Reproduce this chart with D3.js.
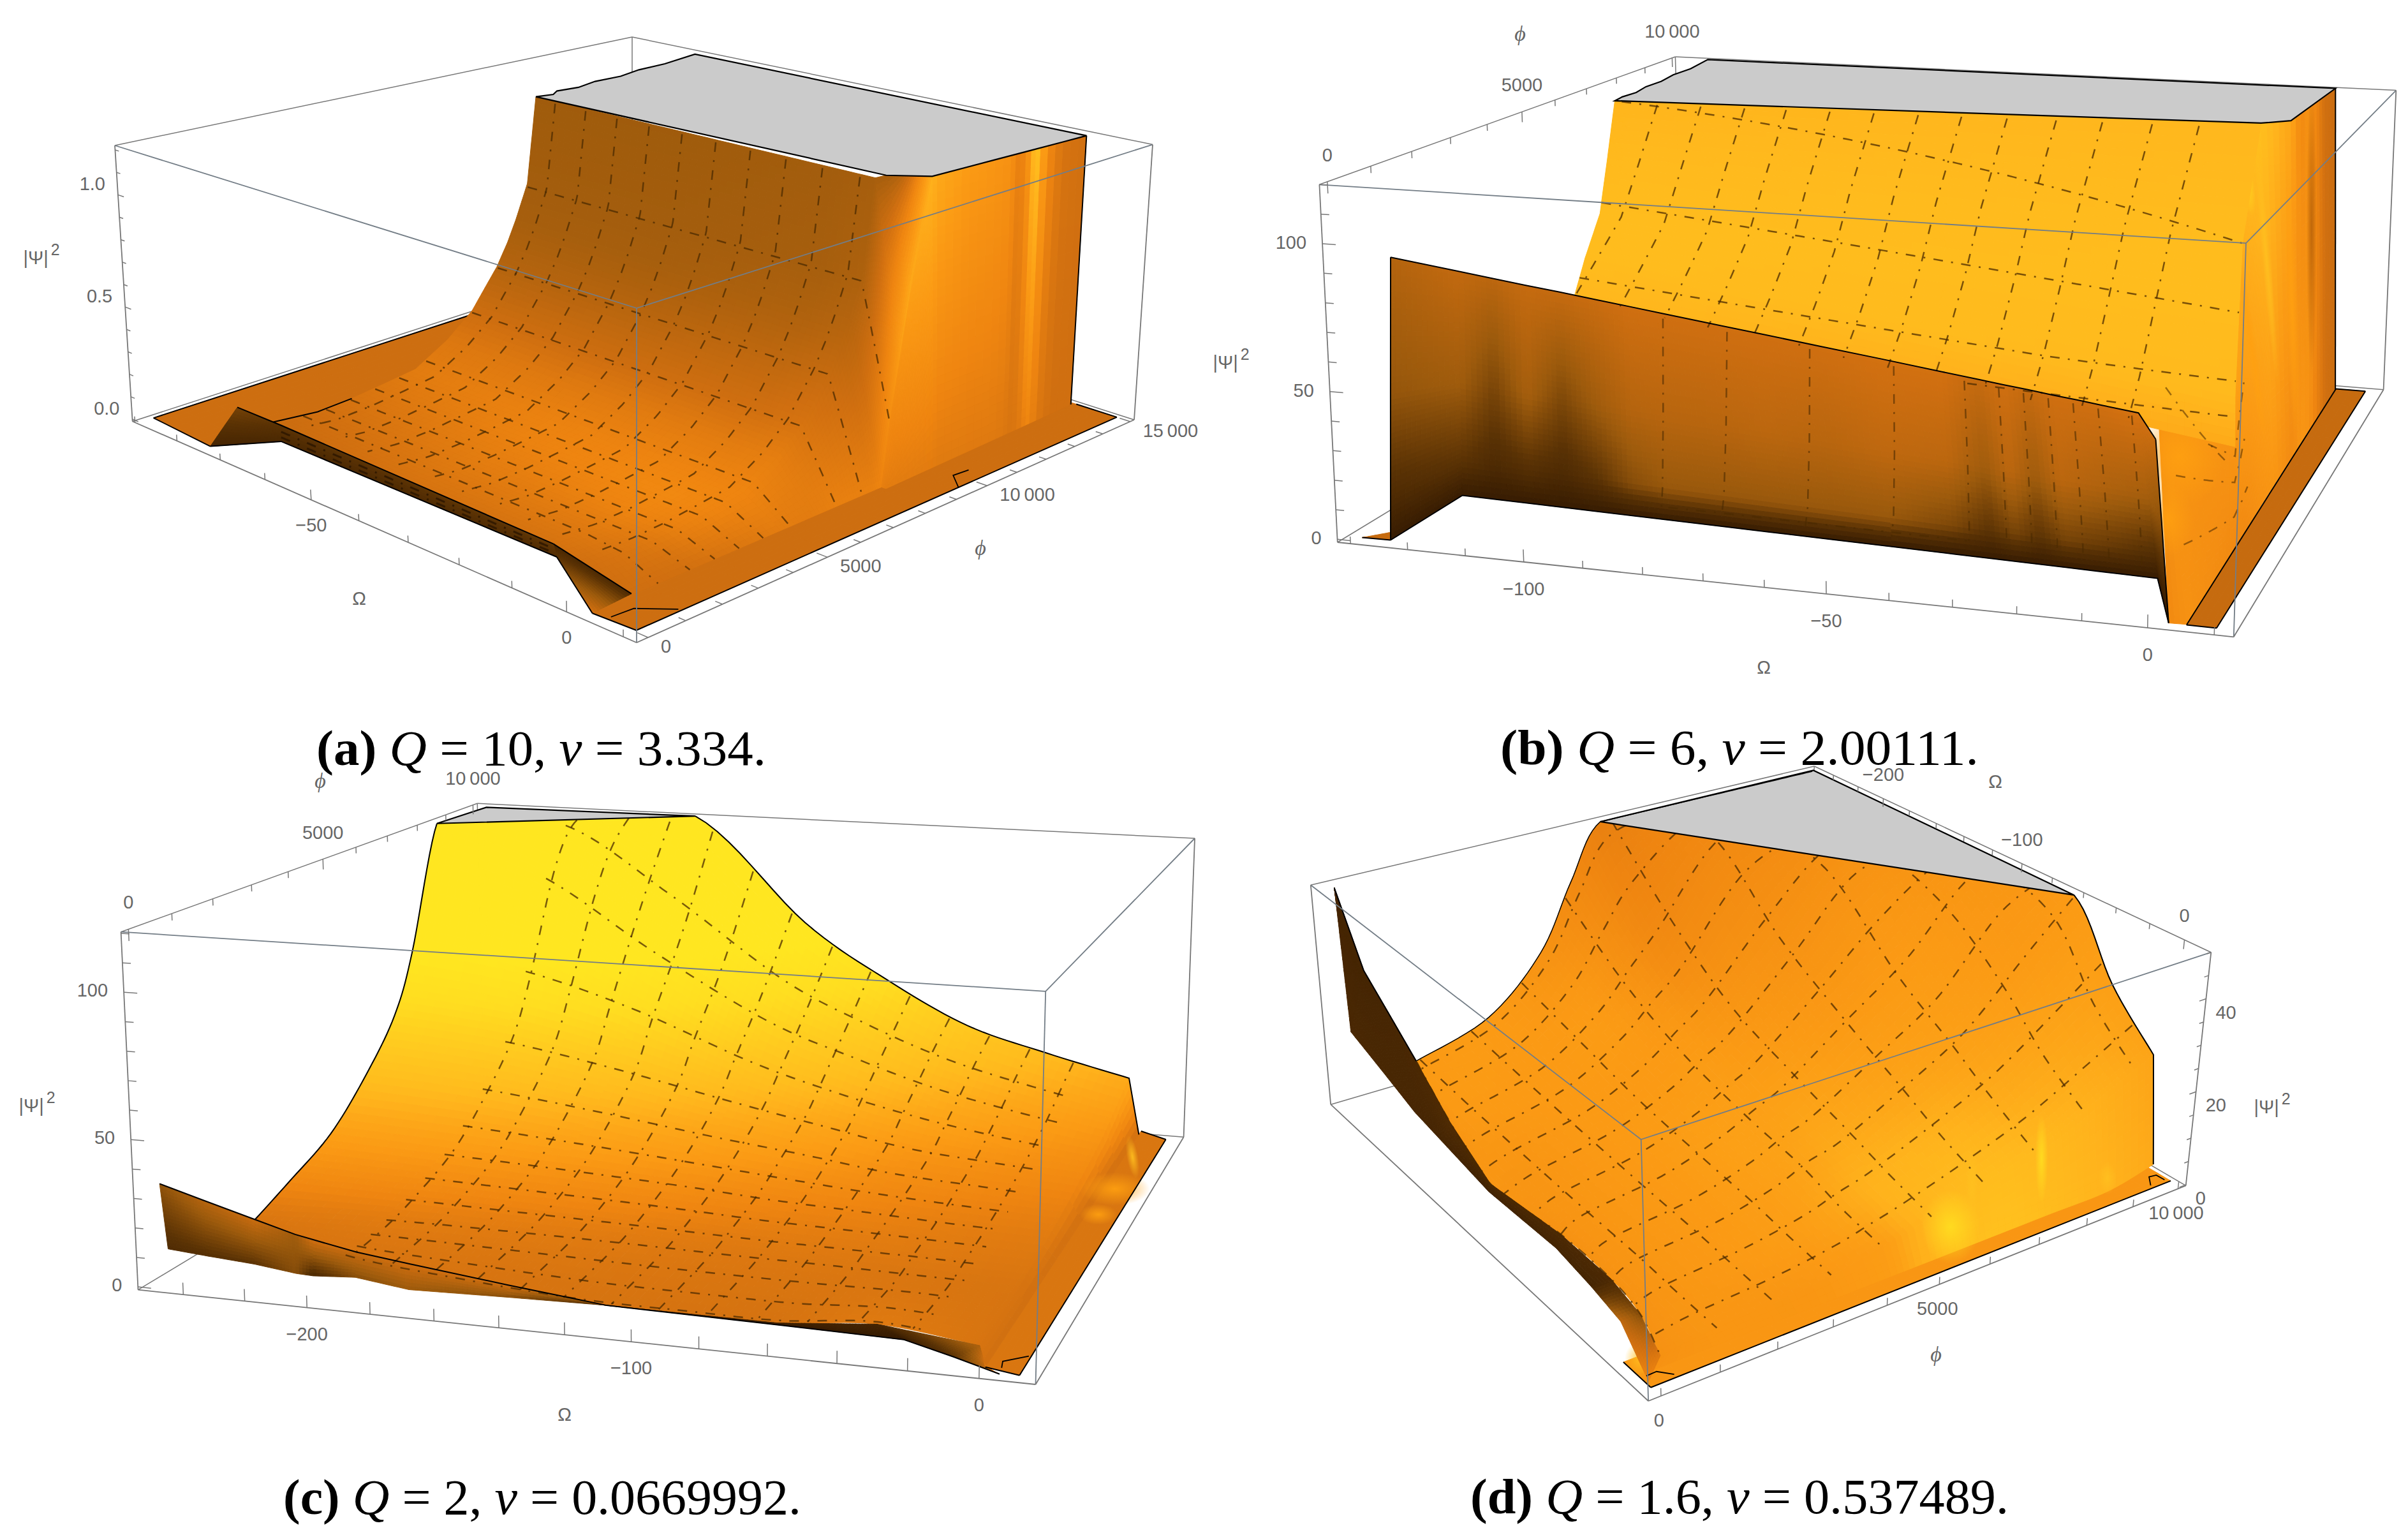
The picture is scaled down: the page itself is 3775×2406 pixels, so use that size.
<!DOCTYPE html>
<html><head><meta charset="utf-8"><script src="https://cdn.jsdelivr.net/npm/d3@7"></script>
<style>html,body{margin:0;background:#fff}svg{display:block}</style></head><body>
<svg id="fig" width="3775" height="2406"></svg>
<script>
// ---------- shared ----------
const shadeStops=[0,.2,.35,.5,.6,.7,.8,.9,1];
const shadeColors=['#241000','#5a3204','#9c5a0c','#d06f10','#ef8510','#fb9a14','#ffb31c','#ffc91f','#ffe620'];
const omegaMinorA=[-90,-80,-70,-60,-50,-40,-30,-20,-10,0,10];
const omegaMinorB=[-130,-120,-110,-100,-90,-80,-70,-60,-50,-40,-30,-20,-10,0,10];
const omegaMinorCD=[-240,-220,-200,-180,-160,-140,-120,-100,-80,-60,-40,-20,0];
const phiMinor=[0,1000,2000,3000,4000,5000,6000,7000,8000,9000,10000,11000,12000,13000,14000,15000];

// ---------- panel (a): Q = 10 ----------
const aOmegaTicks=[-50,0], aOmegaLabels=['−50','0'];
const aPhiTicks=[0,5000,10000,15000], aPhiLabels=['0','5000','10\u2009000','15\u2009000'];
const aZTicks=[0,.5,1], aZLabels=['0.0','0.5','1.0'], aZMinor=[0,.1,.2,.3,.4,.5,.6,.7,.8,.9,1,1.1,1.2];
const aMainOmegaRows=[[-70.3,-40,-11.4,-4,2.8],[-70.3,-40,-11.4,-4,.9],[-70.3,-40,-11.4,-3.8,1.2],[-70.3,-40,-11.4,-4,1.6],[-70.3,-40,-11.4,-4,2],[-70.3,-40,-11.4,-4,2.8],[-70.3,-40,-11.4,-4,2.8],[-70.3,-40,-11.4,-4,2.8],[-70.3,-40,-11.4,-4,2.8],[-70.3,-40,-11.4,-4,2.8],[-70.3,-40,-11.4,-4,2.8],[-70.3,-40,-11.4,-4,2.8],[-70.3,-40,-11.4,-4,2.8],[-70.3,-40,-11.4,-4,2.8],[-70.3,-40,-11.4,-4,2.8]];
const aMainPhi=[14800,9860,9270,8968,8682,8311,8051,7716,6942,6182,5221,4300,3365,2400,[1183,1100,1003,800,500]];
const aMainZ=[[1.22,1.22,1.22,1.22,1.22],[1.22,1.22,1.22,1.22,1.22],[1.22,1.22,1.22,1.22,.75],[1.22,1.22,1.22,1.22,.5],[.81,.81,.81,.81,.25],[.65,.65,.65,.65,0],[.554,.554,.554,.554,0],[.453,.453,.453,.453,0],[.281,.281,.281,.281,0],[.181,.181,.181,.181,0],[.094,.094,.094,.094,0],[.075,.075,.075,.075,0],[.058,.058,.058,.058,0],[.05,.05,.05,.05,0],[.07,.07,.07,.05,0]];
const aMainShade=[[.36,.36,.36,.38,.78],[.36,.36,.36,.38,.78],[.36,.36,.36,.38,.76],[.36,.36,.37,.38,.72],[.37,.37,.38,.40,.66],[.38,.38,.40,.42,.6],[.40,.40,.42,.44,.58],[.42,.43,.45,.47,.58],[.49,.49,.5,.52,.58],[.54,.55,.56,.57,.56],[.56,.59,.6,.6,.56],[.54,.59,.62,.6,.54],[.52,.57,.6,.58,.52],[.5,.55,.56,.54,.5],[.48,.52,.52,.5,.5]];
const aWallOmegaTop=[2.8,2.5,2.3,2.2,2.14,2.08,1.95,1.83,1.64,1.33,.95,.9,1.2,1.8,2.8];
const aWallOmegaBase=[2.6,2.72,2.8,2.84,2.86,2.88,2.94,2.99,3.06,3.19,3.34,3.36,3.45,3.54,3.6];
const aWallPhi=[14800,14000,13500,13250,13100,12950,12600,12300,11800,11000,10000,9860,9270,8682,8311];
const aWallTop=[1.22,1.22,1.22,1.22,1.22,1.22,1.22,1.22,1.22,1.22,1.22,1.22,.75,.25,0];
const aWallShadeTop=[.5,.52,.62,.78,.92,.7,.56,.66,.68,.7,.76,.8,.72,.62,.58];
const aWallShadeBase=[.5,.5,.54,.6,.6,.56,.52,.54,.55,.55,.55,.56,.56,.56,.56];
const aFloorOmega=[-88.8,-74.3,-68.6,-12.2,3.1,10.4];
const aFloorPhiFront=[65,-64,1170,1202,-82,-21];
const aCurtainOmegaTop=[-78.5,-68.5,-11.4], aCurtainPhiTop=[1177,1183,1003], aCurtainOmegaBase=[-74.3,-68.6,-12.2], aCurtainPhiBase=[-64,1170,1202];
const aCornerOmegaTop=[-11.4,6.4], aCornerPhiTop=[1003,457], aCornerOmegaBase=[-12.2,3.1], aCornerPhiBase=[1202,-82];
const aPlateauOmega=[-70.3,-69.5,-70.8,-70.2,-71.3,-71,-72.2,-72.3,-73.8,2.8,2.5,2.1,1.64,.9,-3.8];
const aPlateauPhi=[8968,9400,9700,10300,11000,11800,12600,13500,14795,14800,14000,12950,11800,9860,9270];
const aMeshOmega=[-66,-59.4,-52.8,-46.2,-39.6,-33,-26.4,-19.8,-13.2,-6.6];
const aMeshPhi=[8650,7700,6900,5500,4700,4000,3300,2600,1900];
const aMarkOmega1=[5.5,5.8,9.9], aMarkPhi1=[51,611,1175];
const aMarkOmega2=[10.5,7.2,7.5], aMarkPhi2=[9400,9834,10290];

// ---------- panel (b): Q = 6 ----------
const bOmegaTicks=[-100,-50,0], bOmegaLabels=['−100','−50','0'];
const bPhiTicks=[0,5000,10000], bPhiLabels=['0','5000','10\u2009000'];
const bZTicks=[0,50,100], bZLabels=['0','50','100'], bZMinor=[0,10,20,30,40,50,60,70,80,90,100,110,120];
const bMainOmega=[[-121.5,-4.2],[-121.5,-4.2],[-121.5,-4.2],[-121.5,-4.2],[-121.5,-4.2]];
const bMainPhi=[[6177,6980],[5882,5979],[5594,5869],[5088,5767],[4710,5853]];
const bMainZ=[[120,120],[98.4,80.5],[78.5,53.8],[64.2,25.4],[51.3,6.5]];
const bMainShade=[[.81,.82],[.83,.84],[.84,.84],[.84,.83],[.82,.76]];
const bMeshDash=[.07,.14,.21,.276,.345,.414,.483,.55,.62,.695,.765,.84,.91];
const bMeshDotLeft=[0,1.8,3.5,3.95], bMeshDotRight=[1,1.93,2.8,3.4], bMeshDotStart=[0,0,0,.6];
const bCurtainOmegaTop=[-135.3,-123,-117,-111,-105,-99,-93,-87,-80,-70,-60,-50,-40,-34,-30,-26,-22,-18,-14,-8.3,-5.5];
const bCurtainZTop=[83,79.7,78.1,76.5,75,73.4,71.8,70.2,68.3,65.7,63,60.4,57.7,56.1,55,54,52.9,51.9,50.8,49.3,41.1];
const bCurtainOmegaBase=[-124.1,-124,-117.7,-111.4,-105,-98.7,-92.4,-86.1,-78.7,-68.2,-57.7,-47.1,-36.6,-30.3,-26.1,-21.9,-17.7,-13.5,-9.3,-3.3,2.8];
const bCurtainPhiBase=[-19,1767,1743,1719,1694,1670,1646,1622,1594,1553,1513,1473,1433,1409,1393,1377,1361,1345,1329,1305,-64];
const bCurtainShadeTop=[.42,.46,.44,.47,.47,.48,.5,.5,.5,.5,.5,.51,.51,.47,.5,.47,.5,.5,.5,.52,.48];
const bCurtainShadeMid=[.33,.36,.27,.38,.28,.36,.42,.43,.43,.44,.43,.45,.44,.36,.44,.36,.44,.42,.4,.38,.3];
const bCurtainShadeLow=[.16,.2,.15,.18,.15,.2,.3,.34,.34,.34,.34,.34,.28,.2,.26,.2,.26,.24,.22,.18,.12];
const bCurtainRows=[1,.5,.15,0];
const bWallOmegaTop=[-5.5,-5.5,-4.2,-4.2,-4.2,-4.2,-4.2,.3,.8,1,1.2,1.5,1.7];
const bWallPhiTop=[1767,1767,5853,5767,5869,5979,6980,7276,7800,8300,8800,9300,10046];
const bWallZTop=[60,60,12,25.4,53.8,80.5,120,120,120,120,120,120,120];
const bWallOmegaBase=[2.8,5.5,5.2,5,4.9,4.8,4.7,4.6,4.5,4.45,4.4,4.35,4.3];
const bWallPhiBase=[-64,-50,2500,3200,3800,4300,5200,6500,7100,7700,8300,9000,9785];
const bWallShadeTop=[.66,.66,.68,.72,.75,.78,.86,.75,.62,.66,.6,.5,.48];
const bWallShadeBase=[.62,.66,.62,.62,.64,.66,.68,.62,.68,.66,.58,.5,.48];
const bPlateauOmega=[-121.5,-122,-121.6,-122.6,-122.4,-123.4,-123.2,-124.6,1.7,.3,-4.2];
const bPlateauPhi=[6177,6500,6900,7400,7900,8500,9100,10002,10046,7276,6980];
const bFloorRightOmega=[[4.3,10],[5.5,10]], bFloorRightPhi=[9833,-64];
const bFloorLeftOmega=[-129,-124.1], bFloorLeftPhi=[[-34,400],[-34,-19]];

// ---------- panel (c): Q = 2 ----------
const cOmegaTicks=[-200,-100,0], cOmegaLabels=['−200','−100','0'];
const cPhiTicks=[0,5000,10000], cPhiLabels=['0','5000','10\u2009000'];
const cZTicks=[0,50,100], cZLabels=['0','50','100'], cZMinor=[0,10,20,30,40,50,60,70,80,90,100,110,120];
const cMainOmega=[-249.7,-208,-167,-124.9,-92.6,-63.4,-34.5,-4,.2];
const cMainPhi=[9975,9000,8217,7261,6621,5668,4545,3291,2364,[2364,1400,1000,700,660,660,700,550,100]];
const cMainZ=[[120.5,120.5,120.5,78,55.5,39.4,30.5,22.6,0],[120.5,120.5,95,62,45,33,25,18,0],[120.5,105,76,50,37,27,20,14,0],[72,66,54,37,27,20,15,11,0],[50,46,38,28,21,15,12,9.5,0],[32.7,30,25,19,15,11,9,7,0],[17.7,16,14,11.5,9,7.5,6,5,0],[8.7,8,7,6,5,4.5,4,3,0],[2.6,4,4,3.5,3,2.8,2.5,2,0],[2.6,2,1.5,1.5,1.5,1.5,4,2,0]];
const cShadeZ=[0,5,9,15,22,30,40,55,70,80], cShadeS=[.5,.56,.62,.7,.76,.84,.9,.97,1,1];
const cCurtainOmegaTop=[-258.3,-243.6,-226.9,-213.8,-208,-194,-177.2,-146,-115.1];
const cCurtainZTop=[28.1,23.7,18.8,15,13.8,11,8.8,5,1.5];
const cCurtainOmegaBase=[-264.6,-250,-232,-216,-210.1,-197.4,-177.4,-147,-116.6];
const cCurtainPhiBase=[1229,1120,1000,825,801,898,667,750,817];
const cCurtainShadeTop=[.32,.42,.48,.36,.5,.48,.5,.5,.3], cCurtainShadeBase=[.16,.18,.2,.3,.14,.3,.35,.3,.15];
const cStripOmegaTop=[-115.1,-63.4,-34.5,-4,.2], cStripPhiTop=[667,660,700,550,100], cStripZTop=[1.5,1.5,4,2,0];
const cStripOmegaBase=[-116.6,-63,-26.5,-10,5.1], cStripPhiBase=[817,750,688,310,-67];
const cStripShadeTop=[.2,.1,.12,.4,.55], cStripShadeBase=[.1,.06,.06,.2,.5];
const cPlateauOmega=[-249.7,-247.9,-167], cPlateauPhi=[8217,9850,9975];
const cMeshOmega=[-205,-190,-175,-160,-145,-130,-115,-100,-85,-70,-55,-40,-25];
const cMeshPhi=[800,1400,2000,2600,3200,3800,4400,5000,5700,6500,7300,8100,8900];
const cFloorOmega=[.2,10.5], cFloorPhi=[[10167,9830],[100,-44]];
const cMarkOmega=[4.6,3.8,9.8], cMarkPhi=[126,327,575];

// ---------- panel (d): Q = 1.6 ----------
const dOmegaTicks=[-200,-100,0], dOmegaLabels=['−200','−100','0'];
const dPhiTicks=[0,5000,10000], dPhiLabels=['0','5000','10\u2009000'];
const dZTicks=[0,20,40], dZLabels=['0','20','40'], dZMinor=[0,5,10,15,20,25,30,35,40,45,50];
const dMainOmega=[-250.4,-200,-150,-100,-60.4,-33,-5.8,.3];
const dMainPhi=[9975,9000,7770,6530,5284,4640,3984,2872,1385,[1385,1034,756,960,955,820,500,20]];
const dMainZ=[[50,50,50,50,50,34.8,24.6,2.03],[50,50,50,50,40,28,20,0],[50,50,50,36,27,20,14,0],[50,50,36,26,19,14,10,0],[50,33,22,16,12,9,6.5,0],[37.2,25,17,12.5,10,7,5,0],[22.5,17,12,9,7,5,3.5,0],[10.7,8.5,6.5,5,4,3,2,0],[5.4,4,3,2.5,2.2,1.5,1,0],[5.4,2.6,.56,.05,0,0,0,0]];
const dMainShade=[[.6,.62,.66,.68,.7,.72,.74,.76],[.6,.62,.66,.68,.7,.74,.78,.8],[.6,.62,.66,.7,.72,.76,.82,.84],[.6,.62,.66,.7,.74,.8,.84,.86],[.58,.62,.68,.72,.76,.8,.8,.8],[.62,.66,.7,.72,.74,.76,.72,.72],[.66,.7,.7,.72,.72,.72,.7,.7],[.7,.7,.7,.7,.7,.7,.68,.68],[.7,.7,.68,.68,.68,.68,.68,.68],[.7,.68,.68,.66,.66,.66,.66,.66]];
const dStripOmegaTop=[-252,-252,-250.4,-200,-150,-100,-60.4,-33,-5.8], dStripPhiTop=[140,550,1385,1034,756,960,955,820,500], dStripZTop=[49,28.7,5.4,2.6,.56,.05,0,0,0];
const dStripOmegaBase=[-252,-252,-227.2,-195,-146.4,-92,-60,-33,5.4], dStripPhiBase=[140,220,873,784,650,700,597,480,26], dStripZBase=[49,15.7,0,0,0,0,0,0,0];
const dStripShadeTop=[.12,.12,.14,.16,.14,.15,.15,.3,.55], dStripShadeBase=[.12,.14,.13,.12,.1,.12,.12,.45,.6];
const dPlateauOmega=[-250.4,-251.4,-60.4], dPlateauPhi=[5284,10027,9975];
const dMeshOmega=[-240,-220,-200,-180,-160,-140,-120,-100,-80,-60,-40,-20];
const dMeshPhi=[500,1500,2500,3500,4500,5500,6500,7500,8500,9500];
const dFloorOmega=[-10,9], dFloorPhi=[[10060,10060],[-24,-24]];
const dMarkOmega1=[2.1,1.9,7], dMarkPhi1=[70,246,417];
const dMarkOmega2=[7,1.4,2.1,6.9], dMarkPhi2=[9684,9858,9994,10000];

// ---------- captions ----------
const captionTags=['(a)','(b)','(c)','(d)'];
const captionQ=['10','6','2','1.6'];
const captionNu=['3.334','2.00111','0.0669992','0.537489'];

// ---------- helpers ----------
const svg=d3.select('#fig');
const shadeScale=d3.scaleLinear().domain(shadeStops).range(shadeColors).clamp(true);
const GRAY='#777';
const defs=svg.append('defs');
[['gYellow','#ffe020',.85],['gOrange','#ffa010',.9],['gPale','#ffc01f',.9],['gDark','#a85606',.7]].forEach(([id,c,o])=>{
  const g=defs.append('radialGradient').attr('id',id);
  g.append('stop').attr('offset','0%').attr('stop-color',c).attr('stop-opacity',o);
  g.append('stop').attr('offset','100%').attr('stop-color',c).attr('stop-opacity',0);
});
function hom(q){const [[x0,y0],[x1,y1],[x2,y2],[x3,y3]]=q;const dx1=x1-x2,dx2=x3-x2,sx=x0-x1+x2-x3,dy1=y1-y2,dy2=y3-y2,sy=y0-y1+y2-y3;const den=dx1*dy2-dx2*dy1;const g=(sx*dy2-dx2*sy)/den,h=(dx1*sy-sx*dy1)/den;const a=x1-x0+g*x1,b=x3-x0+h*x3,c=x0,d=y1-y0+g*y1,e=y3-y0+h*y3,f=y0;return (u,v)=>{const k=g*u+h*v+1;return [(a*u+b*v+c)/k,(d*u+e*v+f)/k]}}
function makePanel(cfg){
  const H0=hom(cfg.low),H1=hom(cfg.up);
  const u=d3.scaleLinear().domain(cfg.om).range([0,1]),v=d3.scaleLinear().domain(cfg.ph).range([0,1]),w=d3.scaleLinear().domain(cfg.z).range([0,1]);
  const project=(O,P,Z)=>{const a=H0(u(O),v(P)),b=H1(u(O),v(P)),t=w(Z);return [a[0]+(b[0]-a[0])*t,a[1]+(b[1]-a[1])*t]};
  return {...cfg,project,g:svg.append('g')};
}
const omAt=(s,r,c)=>Array.isArray(s.om[0])?s.om[r][c]:s.om[c];
const phAt=(s,r,c)=>Array.isArray(s.ph[r])?s.ph[r][c]:s.ph[r];
const lerp=(a,b,t)=>a+(b-a)*t;
function basis(x,n,k){
  if(!k||x>=k-1){const c=Math.min(Math.floor(x),n-2),a=x-c;return [[c,1-a],[c+1,a]]}
  const c=Math.floor(x),t=x-c,cl=i=>Math.max(0,Math.min(k-1,i));
  return [[cl(c-1),-.5*t+t*t-.5*t*t*t],[cl(c),1-2.5*t*t+1.5*t*t*t],[cl(c+1),.5*t+2*t*t-1.5*t*t*t],[cl(c+2),-.5*t*t+.5*t*t*t]];
}
function evalSheet(s,i,j){
  const C=s.z[0].length,R=s.z.length;
  const bi=basis(i,C,s.crCols),bj=basis(j,R,s.crRows);
  const mix=f=>{let v=0;for(const [r,wr] of bj)for(const [c,wc] of bi)v+=wr*wc*f(r,c);return v};
  const O=mix((x,y)=>omAt(s,x,y)),P=mix((x,y)=>phAt(s,x,y));
  let Z=mix((x,y)=>s.z[x][y]);if(s.cap!==undefined)Z=Math.min(Z,s.cap);
  let S;
  if(typeof s.s==='number')S=s.s;
  else if(s.s)S=mix((x,y)=>s.s[x][y]);
  else S=s.zs(Z);
  return {O,P,Z,S};
}
function drawSheet(p,s){
  const quads=[],q=s.q||12,top=p.z[1]-1e-6;
  const R=s.z.length,C=s.z[0].length;
  for(let r=0;r<R-1;r++)for(let c=0;c<C-1;c++){
    const corner=(x,y)=>p.project(omAt(s,x,y),phAt(s,x,y),s.z[x][y]);
    const A=corner(r,c),B=corner(r,c+1),D=corner(r+1,c),E=corner(r+1,c+1);
    const nc=Math.max(1,Math.min(40,Math.ceil(Math.max(Math.hypot(A[0]-B[0],A[1]-B[1]),Math.hypot(D[0]-E[0],D[1]-E[1]))/q)));
    const nr=Math.max(1,Math.min(40,Math.ceil(Math.max(Math.hypot(A[0]-D[0],A[1]-D[1]),Math.hypot(B[0]-E[0],B[1]-E[1]))/q)));
    for(let a=0;a<nr;a++)for(let b=0;b<nc;b++){
      const n=[[0,0],[0,1],[1,1],[1,0]].map(([da,db])=>evalSheet(s,c+(b+db)/nc,r+(a+da)/nr));
      if(n.every(d=>d.Z>=top))continue;
      const m=evalSheet(s,c+(b+.5)/nc,r+(a+.5)/nr);
      quads.push({pts:n.map(d=>p.project(d.O,d.P,d.Z)),fill:shadeScale(m.S)});
    }
  }
  p.g.append('g').selectAll('path').data(quads).join('path')
    .attr('d',d=>'M'+d.pts.map(t=>t[0].toFixed(1)+','+t[1].toFixed(1)).join('L')+'Z')
    .attr('fill',d=>d.fill).attr('stroke',d=>d.fill).attr('stroke-width',1);
}
function idx(arr,val){
  for(let i=0;i<arr.length-1;i++){const a=arr[i],b=arr[i+1];if((val>=a&&val<=b)||(val<=a&&val>=b))return i+(val-a)/(b-a)}
  return val<arr[0]===arr[0]<arr[1]?0:arr.length-1;
}
const meshLine=d3.line().defined(d=>d.ok).x(d=>d.x).y(d=>d.y);
function drawSeg(p,s,[i0,j0,i1,j1],opt={}){
  const top=p.z[1]-1e-6,pts=d3.range(0,1.0001,1/90).map(t=>{const e=evalSheet(s,lerp(i0,i1,t),lerp(j0,j1,t));const xy=p.project(e.O,e.P,e.Z);return {x:xy[0],y:xy[1],ok:e.Z<top}});
  p.g.append('path').attr('d',meshLine(pts)).attr('fill','none').attr('stroke',opt.color||'#4a2a00').attr('stroke-opacity',opt.op||.74)
    .attr('stroke-width',opt.w||2.5).attr('stroke-dasharray','15 13 3 13');
}
function drawMesh(p,s,meshOm,meshPh,phSpan,omSpan){
  const cols=Array.isArray(s.om[0])?s.om[0]:s.om;
  const rows=s.ph.map(d=>Array.isArray(d)?d[Math.floor(d.length/2)]:d);
  meshOm.forEach(o=>{const i=idx(cols,o);drawSeg(p,s,[i,idx(rows,phSpan[0]),i,idx(rows,phSpan[1])])});
  meshPh.forEach(f=>{const j=idx(rows,f);drawSeg(p,s,[idx(cols,omSpan[0]),j,idx(cols,omSpan[1]),j])});
}
function drawEdge(p,s,kind,k,a,b,w){
  const n=kind==='row'?s.z[0].length:s.z.length;
  const A=a===undefined?0:a,B=b===undefined?n-1:b,step=(s.crRows||s.crCols)?.1:1;
  const pts=d3.range(A,B+step/2,step).map(t=>{const e=kind==='row'?evalSheet(s,t,k):evalSheet(s,k,t);return p.project(e.O,e.P,e.Z)});
  p.g.append('path').attr('d',d3.line()(pts)).attr('fill','none').attr('stroke','#000').attr('stroke-width',w||2);
}
function drawPlateau(p,om,ph){
  const pts=om.map((o,i)=>p.project(o,ph[i],p.z[1]));
  p.g.append('path').attr('d',d3.line().curve(d3.curveLinearClosed)(pts)).attr('fill','#cbcbcb').attr('stroke','#000').attr('stroke-width',2.2);
}
function drawMark(p,om,ph){
  p.g.append('path').attr('d',d3.line()(om.map((o,i)=>p.project(o,ph[i],0)))).attr('fill','none').attr('stroke','#000').attr('stroke-width',1.8);
}
function drawGlows(p,list){
  p.g.append('g').selectAll('ellipse').data(list).join('ellipse').each(function(d){
    const xy=p.project(d[0],d[1],d[2]);
    d3.select(this).attr('cx',xy[0]).attr('cy',xy[1]).attr('rx',d[3]).attr('ry',d[4]).attr('fill','url(#'+d[5]+')')
      .attr('transform',d[6]?`rotate(${d[6]} ${xy[0]} ${xy[1]})`:null);
  });
}
function seg(p,a,b,color,w){const A=p.project(...a),B=p.project(...b);p.g.append('line').attr('x1',A[0]).attr('y1',A[1]).attr('x2',B[0]).attr('y2',B[1]).attr('stroke',color).attr('stroke-width',w)}
function boxBack(p){const [o0,o1]=p.om,[f0,f1]=p.ph,[z0,z1]=p.z;
  [[[o0,f1,z1],[o1,f1,z1]],[[o0,f0,z1],[o0,f1,z1]],[[o0,f1,z0],[o0,f1,z1]],[[o0,f0,z0],[o0,f1,z0]],[[o0,f1,z0],[o1,f1,z0]]].forEach(([a,b])=>seg(p,a,b,GRAY,1.5));}
function boxFront(p){const [o0,o1]=p.om,[f0,f1]=p.ph,[z0,z1]=p.z;
  [[[o0,f0,z1],[o1,f0,z1]],[[o1,f0,z1],[o1,f1,z1]],[[o1,f0,z0],[o1,f0,z1]]].forEach(([a,b])=>seg(p,a,b,'#737d86',1.8));
  [[[o0,f0,z0],[o1,f0,z0]],[[o1,f0,z0],[o1,f1,z0]],[[o0,f0,z0],[o0,f0,z1]],[[o1,f1,z0],[o1,f1,z1]]].forEach(([a,b])=>seg(p,a,b,GRAY,1.8));}
const dimRange=(p,d)=>d==='O'?p.om[1]-p.om[0]:d==='P'?p.ph[1]-p.ph[0]:p.z[1]-p.z[0];
function axis(p,a){
  const pos=(t)=>a.axis==='O'?[t,a.b,a.c]:a.axis==='P'?[a.b,t,a.c]:[a.b,a.c,t];
  const idxOf={O:0,P:1,Z:2};
  const tick=(t,len)=>{const s=pos(t),e=s.slice();e[idxOf[a.dim]]+=a.sign*len*dimRange(p,a.dim);seg(p,s,e,GRAY,1.5)};
  a.minor.forEach(t=>{if(!a.major.includes(t)&&t>=a.lim[0]&&t<=a.lim[1])tick(t,a.lenMin)});
  a.major.forEach(t=>tick(t,a.lenMaj));
  a.major.forEach((t,i)=>{const xy=p.project(...pos(t));
    p.g.append('text').attr('x',xy[0]+a.dx).attr('y',xy[1]+a.dy).attr('text-anchor',a.anchor).attr('dominant-baseline','central')
      .attr('font-family','Liberation Sans').attr('font-size',29).attr('fill','#666').text(a.labels[i]);});
}
function axisText(p,list){
  list.forEach(([kind,x,y])=>{
    const t=p.g.append('text').attr('x',x).attr('y',y).attr('text-anchor','middle').attr('dominant-baseline','central').attr('fill','#666').attr('font-size',29);
    if(kind==='phi')t.attr('font-family','Liberation Serif').attr('font-style','italic').attr('font-size',34).text('ϕ');
    else if(kind==='om')t.attr('font-family','Liberation Sans').text('Ω');
    else{t.attr('font-family','Liberation Sans').text('|Ψ|');t.append('tspan').attr('dy',-13).attr('dx',4).attr('font-size',25).text('2');}
  });
}
const sheetFrom2=(omT,phT,zT,omB,phB,zB,sT,sB)=>({om:[omB,omT],ph:[phB,phT],z:[zB,zT],s:[sB,sT]});
const rep=(v,n)=>Array(n).fill(v);

// ================= PANEL A =================
{
const p=makePanel({om:[-90.6,12.3],ph:[-302,15148],z:[-.01,1.22],
 low:[[207.7,660.5],[998,1007.3],[1778,658],[991,406.5]],up:[[180,228],[998,483],[1807,226.6],[991,58]]});
boxBack(p);
const floor={om:[aFloorOmega,aFloorOmega],ph:[rep(14900,6),aFloorPhiFront],z:[rep(0,6),rep(0,6)],s:.49};
drawSheet(p,floor);
drawEdge(p,floor,'col',0);
const main={om:aMainOmegaRows,ph:aMainPhi,z:aMainZ,s:aMainShade,q:11};
drawSheet(p,main);
const wall={om:aWallOmegaTop.map((t,i)=>[t,aWallOmegaBase[i]]),ph:aWallPhi,z:aWallTop.map(t=>[t,0]),s:aWallShadeTop.map((t,i)=>[t,aWallShadeBase[i]]),q:14};
drawSheet(p,wall);
const corner=sheetFrom2(aCornerOmegaTop,aCornerPhiTop,[.07,.07],aCornerOmegaBase,aCornerPhiBase,[0,0],[.14,.16],[.2,.52]);
corner.q=5;drawSheet(p,corner);
const curtain=sheetFrom2(aCurtainOmegaTop,aCurtainPhiTop,[.07,.07,.07],aCurtainOmegaBase,aCurtainPhiBase,[0,0,0],[.26,.2,.22],[.12,.14,.17]);
curtain.q=6;drawSheet(p,curtain);
drawMesh(p,main,aMeshOmega,aMeshPhi,[8960,1500],[-70,2.8]);
drawPlateau(p,aPlateauOmega,aPlateauPhi);
[.25,.6].forEach(t=>drawSeg(p,curtain,[1,t,2,t],{color:'#2a1500',op:.8,w:3}));
drawEdge(p,curtain,'row',0);drawEdge(p,curtain,'row',1);drawEdge(p,corner,'row',1);drawEdge(p,corner,'row',0);
drawEdge(p,floor,'row',1,0,1);drawEdge(p,floor,'row',1,4,5);drawEdge(p,floor,'col',5);drawEdge(p,floor,'row',0,4,5);
drawEdge(p,wall,'row',0);drawEdge(p,main,'col',0,12,14);
drawMark(p,aMarkOmega1,aMarkPhi1);drawMark(p,aMarkOmega2,aMarkPhi2);
boxFront(p);
axis(p,{axis:'O',b:-302,c:-.01,dim:'Z',sign:1,lenMaj:.034,lenMin:.022,major:aOmegaTicks,minor:omegaMinorA,lim:[-90,12],labels:aOmegaLabels,dx:0,dy:40,anchor:'middle'});
axis(p,{axis:'P',b:12.3,c:-.01,dim:'O',sign:-1,lenMaj:.018,lenMin:.012,major:aPhiTicks,minor:phiMinor,lim:[-302,15148],labels:aPhiLabels,dx:20,dy:14,anchor:'start'});
axis(p,{axis:'Z',b:-90.6,c:-302,dim:'O',sign:1,lenMaj:.014,lenMin:.009,major:aZTicks,minor:aZMinor,lim:[-.01,1.22],labels:aZLabels,dx:-20,dy:-17,anchor:'end'});
axisText(p,[['om',563,938],['phi',1537,858],['psi',65,404]]);
}
// ================= PANEL B =================
{
const p=makePanel({om:[-132.3,12.9],ph:[-177,10120],z:[-1,120],
 low:[[2096.8,850],[3501.8,998.3],[3736.6,610.8],[2637.9,521.3]],up:[[2068.4,289.3],[3521,381.2],[3756.3,141.6],[2626.4,89]]});
boxBack(p);
const floorR={om:bFloorRightOmega,ph:bFloorRightPhi,z:[[0,0],[0,0]],s:.47};drawSheet(p,floorR);
const floorL={om:bFloorLeftOmega,ph:bFloorLeftPhi,z:[[0,0],[0,0]],s:.47};drawSheet(p,floorL);
const wall=sheetFrom2(bWallOmegaTop,bWallPhiTop,bWallZTop,bWallOmegaBase,bWallPhiBase,rep(0,13),bWallShadeTop,bWallShadeBase);
wall.q=12;drawSheet(p,wall);
drawGlows(p,[[0,1200,41,70,80,'gOrange'],[0,700,25,40,60,'gOrange'],[0,3500,65,14,70,'gPale',-8],[0,4500,113,12,60,'gYellow',-10],[0,3200,94,10,50,'gPale',-12],
 [1,7500,48,10,230,'gOrange',-2],[1,8800,70,8,230,'gDark'],[0,6000,75,7,200,'gPale',-5],[0,5200,48,8,160,'gOrange',-8]]);
const main={om:bMainOmega,ph:bMainPhi,z:bMainZ,s:bMainShade,q:14};drawSheet(p,main);
const n=bCurtainOmegaTop.length;
const curtain={om:bCurtainRows.map(f=>bCurtainOmegaTop.map((o,i)=>lerp(bCurtainOmegaBase[i],o,f))),
 ph:bCurtainRows.map(f=>bCurtainPhiBase.map((b,i)=>lerp(b,1767,f))),
 z:bCurtainRows.map(f=>bCurtainZTop.map(t=>t*f)),
 s:[bCurtainShadeTop,bCurtainShadeMid,bCurtainShadeLow,rep(.07,n)],q:9};
drawSheet(p,curtain);
bMeshDash.forEach(i=>drawSeg(p,main,[i,0,i-.07,4]));
bMeshDotLeft.forEach((l,k)=>drawSeg(p,main,[bMeshDotStart[k],l,1,bMeshDotRight[k]]));
[.35,.42,.49,.56,.63,.69,.74,.79,.84,.89,.94].forEach(f=>{const i=f*(n-1);drawSeg(p,curtain,[i,.05,i-.2,2.65],{op:.6})});
drawSeg(p,curtain,[7,2.6,12.5,2.45],{op:.6});
[[1.1,0,1.9,.3],[1.6,.2,4.2,.35],[1.1,.4,3.8,.55],[1.1,.7,3.6,.8]].forEach(a=>drawSeg(p,wall,[a[0],1-a[1],a[2],1-a[3]],{op:.55}));
drawPlateau(p,bPlateauOmega,bPlateauPhi);
drawEdge(p,curtain,'row',0);drawEdge(p,curtain,'row',3);drawEdge(p,curtain,'col',0);drawEdge(p,curtain,'col',n-1);
drawEdge(p,wall,'col',12);drawEdge(p,floorR,'row',1);drawEdge(p,floorR,'col',1);drawEdge(p,floorR,'row',0);drawEdge(p,floorR,'col',0);drawEdge(p,floorL,'row',1);
boxFront(p);
axis(p,{axis:'O',b:-177,c:-1,dim:'Z',sign:1,lenMaj:.034,lenMin:.02,major:bOmegaTicks,minor:omegaMinorB,lim:[-132,12],labels:bOmegaLabels,dx:0,dy:42,anchor:'middle'});
axis(p,{axis:'P',b:-132.3,c:120,dim:'Z',sign:-1,lenMaj:.033,lenMin:.02,major:bPhiTicks,minor:phiMinor,lim:[-177,10120],labels:bPhiLabels,dx:0,dy:-42,anchor:'middle'});
axis(p,{axis:'Z',b:-132.3,c:-177,dim:'O',sign:1,lenMaj:.016,lenMin:.01,major:bZTicks,minor:bZMinor,lim:[-1,120],labels:bZLabels,dx:-25,dy:-2,anchor:'end'});
axisText(p,[['phi',2383,52],['om',2765,1046],['psi',1930,568]]);
}
// ================= PANEL C =================
{
const p=makePanel({om:[-254.9,15.6],ph:[-167,10165],z:[-1,120.5],
 low:[[216.5,2021.7],[1623.5,2170],[1855.6,1782.2],[758,1695]],up:[[189.6,1460.7],[1639.2,1553.8],[1873,1314],[748.3,1259.3]]});
boxBack(p);
const floor={om:cFloorOmega,ph:cFloorPhi,z:[[0,0],[0,0]],s:.53};drawSheet(p,floor);
const zs=d3.scaleLinear().domain(cShadeZ).range(cShadeS).clamp(true);
const main={om:cMainOmega,ph:cMainPhi,z:cMainZ,zs,q:14,crCols:8,crRows:10,cap:120.5};drawSheet(p,main);
drawGlows(p,[[4,7200,0,55,26,'gOrange'],[3,8800,0,9,34,'gPale',-10],[4,6000,0,30,16,'gOrange']]);
const curtain=sheetFrom2(cCurtainOmegaTop,rep(667,9),cCurtainZTop,cCurtainOmegaBase,cCurtainPhiBase,rep(0,9),cCurtainShadeTop,cCurtainShadeBase);
curtain.q=6;drawSheet(p,curtain);
const strip=sheetFrom2(cStripOmegaTop,cStripPhiTop,cStripZTop,cStripOmegaBase,cStripPhiBase,rep(0,5),cStripShadeTop,cStripShadeBase);
strip.q=6;drawSheet(p,strip);
drawMesh(p,main,cMeshOmega,cMeshPhi,[9900,750],[-207,-22]);
drawPlateau(p,cPlateauOmega,cPlateauPhi);
drawEdge(p,main,'row',0,2,8);drawEdge(p,main,'col',0,2,8);drawEdge(p,curtain,'row',1);drawEdge(p,strip,'row',0);drawEdge(p,floor,'row',1);drawEdge(p,floor,'col',1);drawEdge(p,floor,'row',0);
drawMark(p,cMarkOmega,cMarkPhi);
boxFront(p);
axis(p,{axis:'O',b:-167,c:-1,dim:'Z',sign:1,lenMaj:.033,lenMin:.033,major:cOmegaTicks,minor:omegaMinorCD,lim:[-254,15],labels:cOmegaLabels,dx:0,dy:41,anchor:'middle'});
axis(p,{axis:'P',b:-254.9,c:120.5,dim:'Z',sign:-1,lenMaj:.033,lenMin:.02,major:cPhiTicks,minor:phiMinor,lim:[-167,10165],labels:cPhiLabels,dx:0,dy:-42,anchor:'middle'});
axis(p,{axis:'Z',b:-254.9,c:-167,dim:'O',sign:1,lenMaj:.016,lenMin:.01,major:cZTicks,minor:cZMinor,lim:[-1,120.5],labels:cZLabels,dx:-25,dy:-3,anchor:'end'});
axisText(p,[['phi',502,1223],['om',885,2217],['psi',58,1733]]);
}
// ================= PANEL D =================
{
const p=makePanel({om:[-256,14.9],ph:[-209,10177],z:[-.2,50],
 low:[[2086.2,1731.2],[2584.1,2196],[3426.7,1858.3],[2834.6,1511.5]],up:[[2054.8,1387.2],[2572.7,1786],[3466.3,1492.7],[2844.2,1201]]});
boxBack(p);
const floor={om:dFloorOmega,ph:dFloorPhi,z:[[0,0],[0,0]],s:.68};drawSheet(p,floor);
const main={om:dMainOmega,ph:dMainPhi,z:dMainZ,s:dMainShade,q:14,crCols:7,crRows:10,cap:50};drawSheet(p,main);
drawGlows(p,[[-15,6170,0,46,58,'gYellow'],[-36,8800,0,10,70,'gYellow'],[-35,7260,0,10,55,'gPale'],[-8,9270,0,14,26,'gPale'],[-8,230,0,26,28,'gPale']]);
const strip=sheetFrom2(dStripOmegaTop,dStripPhiTop,dStripZTop,dStripOmegaBase,dStripPhiBase,dStripZBase,dStripShadeTop,dStripShadeBase);
strip.q=6;drawSheet(p,strip);
drawMesh(p,main,dMeshOmega,dMeshPhi,[9900,600],[-249,-6]);
drawPlateau(p,dPlateauOmega,dPlateauPhi);
drawEdge(p,main,'row',0,4,7);drawEdge(p,main,'col',0,0,8,1.5);drawEdge(p,strip,'row',1,0,2);drawEdge(p,floor,'row',1);drawEdge(p,floor,'col',1);drawEdge(p,floor,'row',0,1,1);
drawMark(p,dMarkOmega1,dMarkPhi1);drawMark(p,dMarkOmega2,dMarkPhi2);
boxFront(p);
axis(p,{axis:'O',b:10177,c:50,dim:'Z',sign:-1,lenMaj:.04,lenMin:.024,major:dOmegaTicks,minor:omegaMinorCD,lim:[-256,15],labels:dOmegaLabels,dx:0,dy:-38,anchor:'middle'});
axis(p,{axis:'P',b:14.9,c:-.2,dim:'Z',sign:1,lenMaj:.03,lenMin:.03,major:dPhiTicks,minor:phiMinor,lim:[-209,10177],labels:dPhiLabels,dx:-3,dy:38,anchor:'middle'});
axis(p,{axis:'Z',b:14.9,c:10177,dim:'P',sign:-1,lenMaj:.014,lenMin:.009,major:dZTicks,minor:dZMinor,lim:[-.2,50],labels:dZLabels,dx:15,dy:21,anchor:'start'});
axisText(p,[['om',3128,1225],['phi',3035,2122],['psi',3562,1735]]);
}
// ---------- captions ----------
const capLayout=[[496,1201,1199],[2352,3102,1198],[444,1256,2373],[2305,3149,2372]];
captionTags.forEach((t,i)=>{
  const [x0,x1,y]=capLayout[i];
  const txt=svg.append('text').attr('x',x0).attr('y',y).attr('font-family','Liberation Serif').attr('font-size',78).attr('fill','#000')
    .attr('textLength',x1-x0).attr('lengthAdjust','spacingAndGlyphs').attr('xml:space','preserve');
  txt.append('tspan').attr('font-weight','bold').text(t);
  txt.append('tspan').text(' ');
  txt.append('tspan').attr('font-style','italic').text('Q');
  txt.append('tspan').text(' = '+captionQ[i]+', ');
  txt.append('tspan').attr('font-style','italic').text('ν');
  txt.append('tspan').text(' = '+captionNu[i]+'.');
});
</script></body></html>
